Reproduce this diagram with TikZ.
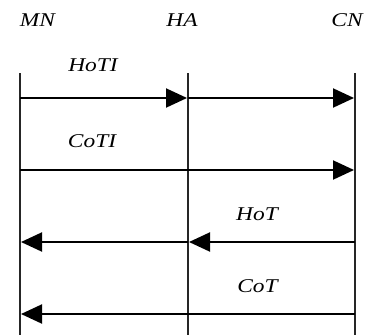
\documentclass[tikz,border=0pt]{standalone}
\usepackage{fontspec}
\setmainfont{Liberation Serif}
\usetikzlibrary{arrows.meta}
\begin{document}
\begin{tikzpicture}[x=1pt,y=-1pt,
  lifeline/.style={line width=1.1pt,draw=black!85},
  msg/.style={line width=2pt,-{Triangle[length=21pt,width=19pt]},shorten >=1pt},
  lbl/.style={anchor=base,inner sep=0pt,font=\fontsize{19.5}{21}\selectfont\itshape}]
\useasboundingbox (0,0) rectangle (366,335);
% entity labels
\node[lbl] (tMN) at (37.5,26.8) {\scalebox{1.2}[1]{MN}};
\node[lbl] (tHA) at (182,26.8) {\scalebox{1.2}[1]{HA}};
\node[lbl] (tCN) at (347,26.8) {\scalebox{1.2}[1]{CN}};
% lifelines
\coordinate (mnT) at (20,73);  \coordinate (mnB) at (20,335);
\coordinate (haT) at (188,73); \coordinate (haB) at (188,335);
\coordinate (cnT) at (355,73); \coordinate (cnB) at (355,335);
\draw[lifeline] (mnT) -- (mnB);
\draw[lifeline] (haT) -- (haB);
\draw[lifeline] (cnT) -- (cnB);
% message points
\coordinate (mn1) at (20,98);  \coordinate (ha1) at (188,98);  \coordinate (cn1) at (355,98);
\coordinate (mn2) at (20,170); \coordinate (cn2) at (355,170);
\coordinate (mn3) at (20,242); \coordinate (ha3) at (188,242); \coordinate (cn3) at (355,242);
\coordinate (mn4) at (20,314); \coordinate (cn4) at (355,314);
% messages
\draw[msg] (mn1) -- (ha1);
\draw[msg] (ha1) -- (cn1);
\draw[msg] (mn2) -- (cn2);
\draw[msg] (cn3) -- (ha3);
\draw[msg] (ha3) -- (mn3);
\draw[msg] (cn4) -- (mn4);
% message labels
\node[lbl] (lHoTI) at (93,71.7) {\scalebox{1.2}[1]{HoTI}};
\node[lbl] (lCoTI) at (92,147.8) {\scalebox{1.2}[1]{CoTI}};
\node[lbl] (lHoT) at (257,220) {\scalebox{1.2}[1]{HoT}};
\node[lbl] (lCoT) at (257.5,292) {\scalebox{1.2}[1]{CoT}};
\end{tikzpicture}
\end{document}
